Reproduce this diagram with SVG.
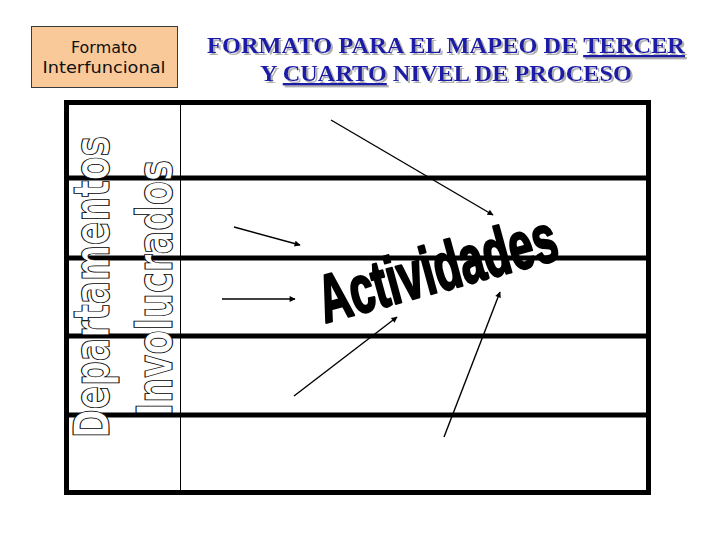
<svg xmlns="http://www.w3.org/2000/svg" width="720" height="540" viewBox="0 0 720 540">
<style>
.title{font-family:"Liberation Serif","Times New Roman",serif;font-weight:bold;font-size:24px;text-anchor:middle;fill:#1a1aa6;filter:url(#shadow)}
.boxt{font-family:"DejaVu Sans","Liberation Sans",sans-serif;font-size:15px;text-anchor:middle;fill:#111}
.thick{stroke:#000;stroke-width:5;fill:none}
.outl{font-family:"DejaVu Sans","Liberation Sans",sans-serif;font-weight:bold;font-size:50px;fill:#fff;stroke:#000;stroke-width:1}
.arr{stroke:#000;stroke-width:1.4;fill:none;marker-end:url(#ah)}
</style>
<defs>
<marker id="ah" viewBox="0 0 10 10" refX="9" refY="5" markerWidth="8" markerHeight="6" markerUnits="userSpaceOnUse" orient="auto">
<path d="M0,0 L10,5 L0,10 Z" fill="#000"/>
</marker>
<filter id="shadow" x="-5%" y="-20%" width="110%" height="150%">
<feOffset in="SourceAlpha" dx="2" dy="2" result="o"/>
<feFlood flood-color="#b0b0b0"/>
<feComposite in2="o" operator="in" result="s"/>
<feMerge><feMergeNode in="s"/><feMergeNode in="SourceGraphic"/></feMerge>
</filter>
</defs>
<rect width="720" height="540" fill="#fff"/>
<g id="label-box">
<rect x="31.5" y="26.5" width="146" height="61" fill="#fac99a" stroke="#3a3a3a" stroke-width="1"/>
<text class="boxt" x="104" y="53" textLength="66" lengthAdjust="spacingAndGlyphs">Formato</text>
<text class="boxt" x="104" y="73" textLength="123" lengthAdjust="spacingAndGlyphs">Interfuncional</text>
</g>
<g id="title">
<text class="title" x="446" y="53" textLength="478" lengthAdjust="spacingAndGlyphs">FORMATO PARA EL MAPEO DE <tspan text-decoration="underline">TERCER</tspan></text>
<text class="title" x="446" y="81" textLength="372" lengthAdjust="spacingAndGlyphs">Y <tspan text-decoration="underline">CUARTO</tspan> NIVEL DE PROCESO</text>
</g>
<g id="table">
<rect class="thick" x="66.5" y="102.5" width="582" height="390"/>
<line class="thick" x1="66" y1="178" x2="649" y2="178"/>
<line class="thick" x1="66" y1="258" x2="649" y2="258"/>
<line class="thick" x1="66" y1="336" x2="649" y2="336"/>
<line class="thick" x1="66" y1="415" x2="649" y2="415"/>
<line x1="180.5" y1="104" x2="180.5" y2="491" stroke="#000" stroke-width="1"/>
</g>
<g id="departamentos">
<text class="outl" transform="translate(109,438) rotate(-90)" x="0" y="0" textLength="302" lengthAdjust="spacingAndGlyphs">Departamentos</text>
</g>
<g id="involucrados">
<text class="outl" transform="translate(172,416) rotate(-90)" x="0" y="0" textLength="256" lengthAdjust="spacingAndGlyphs">Involucrados</text>
</g>
<g id="actividades">
<text transform="translate(325,323) rotate(-15.3)" x="0" y="0" font-family="Liberation Sans, Arial, sans-serif" font-weight="bold" font-size="67" fill="#000" stroke="#000" stroke-width="2.5" stroke-linejoin="round" textLength="245" lengthAdjust="spacingAndGlyphs">Actividades</text>
</g>
<g id="connectors">
<line class="arr" x1="331" y1="120" x2="493" y2="215"/>
<line class="arr" x1="234" y1="227" x2="300" y2="245"/>
<line class="arr" x1="222" y1="299" x2="295" y2="299"/>
<line class="arr" x1="294" y1="396" x2="397" y2="317"/>
<line class="arr" x1="444" y1="437" x2="500" y2="292"/>
</g>
</svg>
